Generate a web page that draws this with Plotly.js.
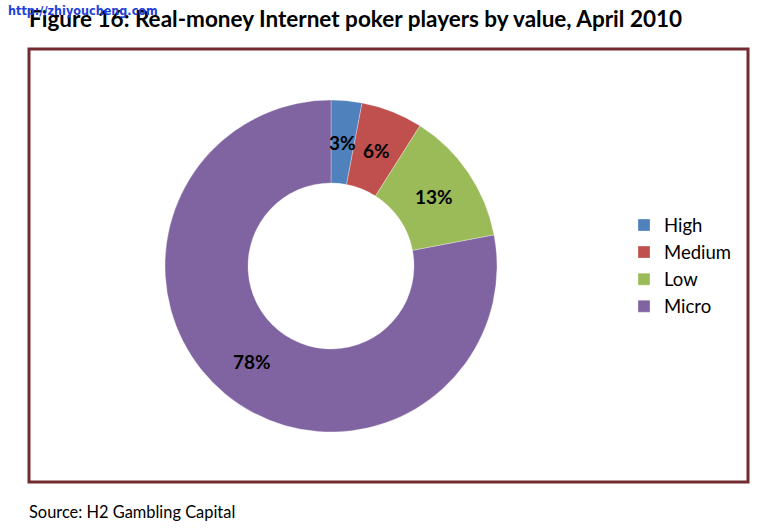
<!DOCTYPE html>
<html>
<head>
<meta charset="utf-8">
<script src="https://cdn.plot.ly/plotly-3.0.1.min.js"></script>
<style>html,body{margin:0;padding:0;background:#fff;}#chart{width:767px;height:529px;}</style>
</head>
<body>
<div id="chart"></div>
<script>
const categories = ["High", "Medium", "Low", "Micro"];
const shares = [3, 6, 13, 78];
const sliceColors = ["#4F81BD", "#C0504D", "#9BBB59", "#8064A2"];
const titleText = "Figure 16: Real-money Internet poker players by value, April 2010";
const sourceText = "Source: H2 Gambling Capital";
const watermarkText = "http://zhiyoucheng.com";

const W = 767, H = 529;
const cx = 331, cy = 266, R = 166, HOLE = 0.5;

const trace = {
  type: "pie",
  labels: categories,
  values: shares,
  sort: false,
  direction: "clockwise",
  rotation: 0,
  hole: HOLE,
  marker: {colors: sliceColors, line: {color: "rgba(255,255,255,0.6)", width: 0.5}},
  textinfo: "none",
  domain: {x: [(cx - R) / W, (cx + R) / W], y: [(H - cy - R) / H, (H - cy + R) / H]},
  hoverinfo: "none"
};

// slice labels placed at each slice's mid-angle, derived from the data
const total = shares.reduce((a, b) => a + b, 0);
const labelR = R * (1 + HOLE) / 2;
let cum = 0;
const sliceLabels = shares.map(v => {
  const th = 2 * Math.PI * (cum + v / 2) / total;
  cum += v;
  const px = cx + labelR * Math.sin(th);
  const py = cy - labelR * Math.cos(th);
  return {text: "<b>" + Math.round(100 * v / total) + "%</b>", xref: "paper", yref: "paper",
    x: px / W, y: 1 - py / H, xanchor: "center", yanchor: "middle", showarrow: false,
    font: {family: "Lato, 'Open Sans', sans-serif", size: 19, color: "#000"}};
});

const layout = {
  width: W, height: H,
  margin: {l: 0, r: 0, t: 0, b: 0},
  paper_bgcolor: "#fff",
  showlegend: true,
  legend: {
    x: 624 / W, y: 1 - 266 / H, xanchor: "left", yanchor: "middle",
    font: {family: "Lato, 'Open Sans', sans-serif", size: 18.5, color: "#000"},
    itemwidth: 30,
    traceorder: "normal"
  },
  shapes: [
    {type: "rect", xref: "paper", yref: "paper",
     x0: 29 / W, x1: 748 / W, y0: 1 - 482 / H, y1: 1 - 49 / H,
     line: {color: "#722B30", width: 3}, fillcolor: "rgba(0,0,0,0)"}
  ],
  annotations: [
    {text: "<b>" + titleText + "</b>", xref: "paper", yref: "paper", x: 27 / W, y: 1 - 3 / H,
     xanchor: "left", yanchor: "top", showarrow: false,
     font: {family: "Lato, 'Open Sans', sans-serif", size: 22.5, color: "#000"}},
    {text: watermarkText, xref: "paper", yref: "paper", x: 6 / W, y: 1 - 1 / H,
     xanchor: "left", yanchor: "top", showarrow: false,
     font: {family: "'DejaVu Sans Condensed', sans-serif", size: 12.5, weight: 700, stretch: "condensed", color: "#1E3FD8"}},
    {text: sourceText, xref: "paper", yref: "paper", x: 27 / W, y: 1 - 500 / H,
     xanchor: "left", yanchor: "top", showarrow: false,
     font: {family: "Lato, 'Open Sans', sans-serif", size: 16.4, color: "#000"}}
  ].concat(sliceLabels)
};

Plotly.newPlot("chart", [trace], layout, {displayModeBar: false, staticPlot: true});
</script>
</body>
</html>
